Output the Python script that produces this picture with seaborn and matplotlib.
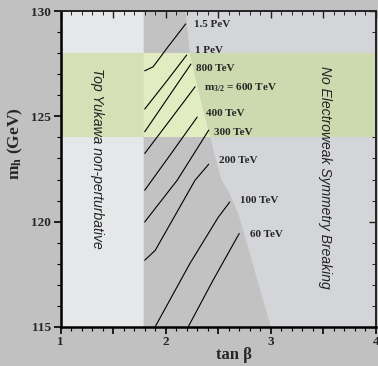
import numpy as np
import pandas as pd
import matplotlib
matplotlib.use("Agg")
import matplotlib.pyplot as plt
from matplotlib.patches import Polygon, Rectangle
from matplotlib.ticker import MultipleLocator
import seaborn as sns

sns.set_theme(style="white")
plt.rcParams['font.family'] = ['Liberation Serif', 'DejaVu Serif']
plt.rcParams['mathtext.fontset'] = 'custom'
plt.rcParams['mathtext.rm'] = 'Liberation Serif'
plt.rcParams['mathtext.bf'] = 'Liberation Serif:bold'
plt.rcParams['mathtext.it'] = 'Liberation Serif:italic'

# ---- data ----
line_labels = ["1.5 PeV", "1 PeV", "800 TeV", "600 TeV", "400 TeV",
               "300 TeV", "200 TeV", "100 TeV", "60 TeV"]
line_tanb = [
    [1.80, 1.88, 2.02, 2.19],
    [1.80, 2.00, 2.20],
    [1.80, 2.02, 2.24],
    [1.80, 2.04, 2.28],
    [1.80, 2.05, 2.30],
    [1.80, 2.11, 2.41],
    [1.80, 1.90, 2.28, 2.41],
    [1.90, 2.23, 2.50, 2.61],
    [2.215, 2.45, 2.70],
]
line_mh = [
    [127.17, 127.36, 128.30, 129.40],
    [125.35, 126.62, 127.92],
    [124.27, 125.88, 127.49],
    [123.24, 124.82, 126.41],
    [121.49, 123.22, 124.97],
    [119.98, 121.97, 124.35],
    [118.16, 118.63, 121.97, 122.73],
    [115.0, 118.0, 120.2, 120.93],
    [115.0, 117.2, 119.43],
]
label_text = ["1.5 PeV", "1 PeV", "800 TeV", r"$\mathbf{m_{3/2}}$ = 600 TeV", "400 TeV",
              "300 TeV", "200 TeV", "100 TeV", "60 TeV"]
label_tanb = [2.27, 2.276, 2.29, 2.365, 2.387, 2.46, 2.508, 2.705, 2.80]
label_mh = [129.35, 128.12, 127.29, 126.38, 125.14, 124.22, 122.92, 121.01, 119.39]

# region boundaries
yukawa_tanb = 1.79
ewsb_tanb = [2.19, 2.23, 2.30, 2.39, 2.47, 2.53, 2.59, 2.69, 3.00]
ewsb_mh = [130.0, 128.0, 126.5, 124.7, 123.1, 122.0, 121.5, 120.4, 115.0]
band = (124.0, 128.0)

rows = []
for lab, xs, ys in zip(line_labels, line_tanb, line_mh):
    for i, (x, y) in enumerate(zip(xs, ys)):
        rows.append(dict(label=lab, order=i, tanb=x, mh=y))
df = pd.DataFrame(rows)

# ---- figure ----
bg = "#c1c1c1"
fig = plt.figure(figsize=(3.78, 3.66), dpi=100, facecolor=bg)
ax = fig.add_axes([0.1606, 0.1074, 0.8333, 0.8617])
ax.set_facecolor(bg)
ax.set_xlim(1, 4)
ax.set_ylim(115, 130)

# regions
left = Rectangle((1, 115), yukawa_tanb - 1, 15, facecolor="#e6e7e9", edgecolor="none", zorder=0)
ax.add_patch(left)
mid_xy = [(yukawa_tanb, 115), (yukawa_tanb, 130)] + list(zip(ewsb_tanb, ewsb_mh))
mid = Polygon(mid_xy, closed=True, facecolor="#c2c2c2", edgecolor="none", zorder=0)
ax.add_patch(mid)
right_xy = list(zip(ewsb_tanb, ewsb_mh)) + [(4, 115), (4, 130)]
right = Polygon(right_xy, closed=True, facecolor="#d4d5d8", edgecolor="none", zorder=0)
ax.add_patch(right)

# Higgs mass band
for patch, col in [(left, "#d6e0b7"), (mid, "#e1ecc0"), (right, "#cdd9ae")]:
    r = Rectangle((1, band[0]), 3, band[1] - band[0], facecolor=col, edgecolor="none", zorder=1)
    ax.add_patch(r)
    r.set_clip_path(patch)

# contour lines
sns.lineplot(data=df, x="tanb", y="mh", units="label", estimator=None, sort=False,
             color="black", lw=0.8, ax=ax, zorder=3)

for t, x, y in zip(label_text, label_tanb, label_mh):
    ax.text(x, y, t, fontsize=8, fontweight="bold", ha="left", va="center",
            family=["Liberation Serif"], zorder=4)

ax.text(1.345, 123.0, "Top Yukawa non-perturbative", rotation=-90, fontsize=10,
        style="italic", family=["Liberation Sans"], ha="center", va="center", color="#222222")
ax.text(3.52, 122.1, "No Electroweak Symmetry Breaking", rotation=-90, fontsize=10,
        style="italic", family=["Liberation Sans"], ha="center", va="center", color="#222222")

# axes styling
ax.set_xlabel("tan β", fontsize=12, fontweight="bold")
ax.set_ylabel(r"$\mathbf{m_h}$ (GeV)", fontsize=12.5, fontweight="bold")
ax.xaxis.set_label_coords(0.55, -0.065, transform=ax.transAxes)
ax.yaxis.set_label_coords(-0.112, 0.58, transform=ax.transAxes)
xt = np.arange(1.0, 4.01, 0.5)
ax.set_xticks(xt)
ax.set_xticklabels(["1", "", "2", "", "3", "", "4"])
ax.xaxis.set_minor_locator(MultipleLocator(0.1))
ax.set_yticks([115, 120, 125, 130])
ax.yaxis.set_minor_locator(MultipleLocator(1))
for lab in ax.get_xticklabels() + ax.get_yticklabels():
    lab.set_fontweight("bold")
    lab.set_fontsize(9.5)
ax.tick_params(axis="both", which="major", direction="out", length=5, width=1.2, color="black",
               pad=2, bottom=True, left=True)
ax.tick_params(axis="both", which="minor", direction="out", length=3, width=0.8, color="black",
               bottom=True, left=True)
for s in ["left", "bottom"]:
    ax.spines[s].set_linewidth(1.8)
    ax.spines[s].set_color("black")
for s in ["top", "right"]:
    ax.spines[s].set_linewidth(1.4)
    ax.spines[s].set_color("#222222")

# inward ticks on top and right
sec_x = ax.secondary_xaxis("top")
sec_x.set_xticks(xt)
sec_x.set_xticklabels([])
sec_x.xaxis.set_minor_locator(MultipleLocator(0.1))
sec_x.tick_params(which="major", direction="in", length=5, width=1.0, color="#222222")
sec_x.tick_params(which="minor", direction="in", length=3, width=0.7, color="#222222")
sec_x.spines["top"].set_visible(False)
sec_y = ax.secondary_yaxis("right")
sec_y.set_yticks([115, 120, 125, 130])
sec_y.set_yticklabels([])
sec_y.yaxis.set_minor_locator(MultipleLocator(1))
sec_y.tick_params(which="major", direction="in", length=5, width=1.0, color="#222222")
sec_y.tick_params(which="minor", direction="in", length=3, width=0.7, color="#222222")
sec_y.spines["right"].set_visible(False)

fig.savefig("out.png", dpi=100, facecolor=bg)
